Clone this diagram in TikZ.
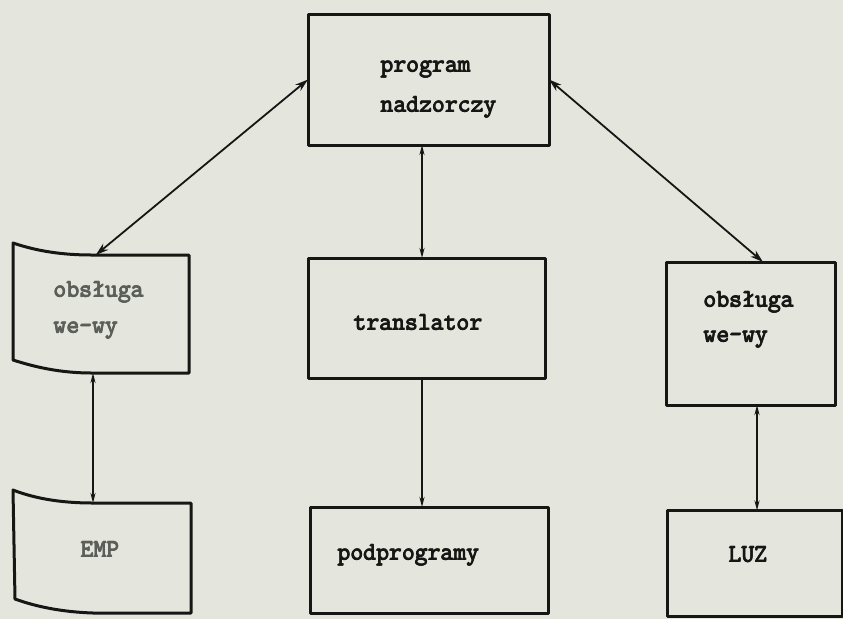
\documentclass[tikz,border=0pt]{standalone}
\usetikzlibrary{calc,arrows.meta}
\definecolor{paper}{RGB}{228,230,222}
\definecolor{ink}{RGB}{22,22,20}
\definecolor{fadedink}{RGB}{92,94,89}
% typewriter text struck several times over for a heavier imprint
\newcommand{\typed}[1]{\rlap{#1}\kern0.7pt\rlap{#1}\raisebox{0.5pt}{\rlap{#1}}\kern-0.7pt#1}
\tikzset{
  frame/.style={draw=ink, line width=3pt, line join=round},
  slot/.style={inner sep=0pt, outer sep=0pt},
  link/.style={draw=ink, line width=1.8pt},
  bigtip/.style={arrows={Stealth[length=13pt,width=8pt]-Stealth[length=13pt,width=8pt]}},
  smalltips/.style={arrows={Stealth[length=10pt,width=5pt]-Stealth[length=10pt,width=5pt]}},
  lowtip/.style={arrows={-Stealth[length=10pt,width=5pt]}},
  lbl/.style={font=\fontsize{25}{30}\selectfont\ttfamily, text=ink, inner sep=0pt, anchor=base west},
  faded/.style={text=fadedink}
}
\begin{document}
\begin{tikzpicture}[x=1pt, y=-1pt]
  \fill[paper] (0,0) rectangle (843,619);
  \useasboundingbox (0,0) rectangle (843,619);

  % plain rectangular blocks
  \node[frame, slot, minimum width=241pt, minimum height=131pt] (pn) at (428.5,79.5) {};
  \node[frame, slot, minimum width=237pt, minimum height=120pt] (tr) at (426.5,318) {};
  \node[frame, slot, minimum width=169pt, minimum height=143pt] (ob2) at (750.5,333.5) {};
  \node[frame, slot, minimum width=238pt, minimum height=106pt] (pp) at (429,560) {};
  \node[frame, slot, minimum width=175pt, minimum height=106pt] (luz) at (754.5,563.5) {};

  % blocks with a curved left side (outline drawn separately)
  \node[slot, minimum width=176pt, minimum height=118pt] (ob1) at (101,314) {};
  \node[slot, minimum width=178pt, minimum height=110pt] (emp) at (102,558) {};

  \draw[frame] (ob1.north east) -- ($(ob1.north west)+(79,0)$)
      .. controls ($(ob1.north west)+(42,0)$) and ($(ob1.north west)+(18,-6)$) .. ($(ob1.north west)+(0,-12)$)
      -- ($(ob1.south west)+(0,-13)$)
      .. controls ($(ob1.south west)+(22,-6)$) and ($(ob1.south west)+(47,0)$) .. ($(ob1.south west)+(79,0)$)
      -- (ob1.south east) -- cycle;

  \draw[frame] (emp.north east) -- ($(emp.north west)+(80,0)$)
      .. controls ($(emp.north west)+(43,0)$) and ($(emp.north west)+(18,-6)$) .. ($(emp.north west)+(0,-13)$)
      -- ($(emp.south west)+(2,-14)$)
      .. controls ($(emp.south west)+(24,-6)$) and ($(emp.south west)+(50,-1)$) .. ($(emp.south west)+(80,0)$)
      -- (emp.south east) -- cycle;

  % labels
  \node[lbl] (tpn1) at (380,72) {\typed{program}};
  \node[lbl] (tpn2) at (380,112) {\typed{nadzorczy}};
  \node[lbl, faded] (tob1a) at (53,297) {\typed{obsługa}};
  \node[lbl, faded] (tob1b) at (53,333) {\typed{we-wy}};
  \node[lbl] (ttr) at (353,330) {\typed{translator}};
  \node[lbl] (tob2a) at (703,307) {\typed{obsługa}};
  \node[lbl] (tob2b) at (703,342) {\typed{we-wy}};
  \node[lbl, faded] (temp) at (80,557) {\typed{EMP}};
  \node[lbl] (tpp) at (337,560) {\typed{podprogramy}};
  \node[lbl] (tluz) at (728,562) {\typed{LUZ}};

  % column positions of the vertical links
  \coordinate (colL) at (93,0);
  \coordinate (colM) at (422,0);
  \coordinate (colR) at (757,0);

  % links
  \draw[link, bigtip] (pn.west) -- ($(ob1.north west)!0.47!(ob1.north east)$);
  \draw[link, bigtip] (pn.east) -- ($(ob2.north west)!0.574!(ob2.north east)$);
  \draw[link, smalltips] (pn.south -| colM) -- (tr.north -| colM);
  \draw[link, smalltips] (ob1.south -| colL) -- (emp.north -| colL);
  \draw[link, lowtip] (tr.south -| colM) -- (pp.north -| colM);
  \draw[link, smalltips] (ob2.south -| colR) -- (luz.north -| colR);
\end{tikzpicture}
\end{document}
